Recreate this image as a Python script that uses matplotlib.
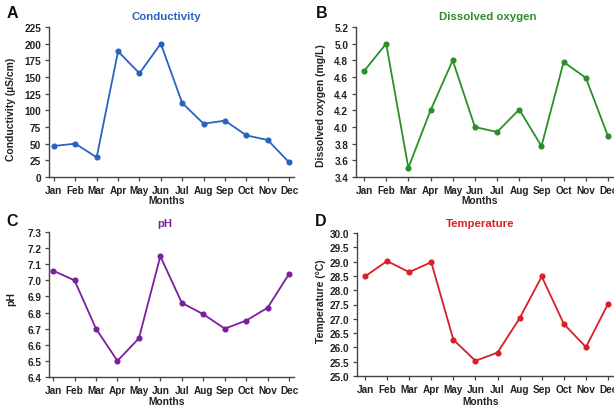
import matplotlib
matplotlib.use("Agg")
import matplotlib.pyplot as plt
import numpy as np

months = ["Jan", "Feb", "Mar", "Apr", "May", "Jun", "Jul", "Aug", "Sep", "Oct", "Nov", "Dec"]
conductivity = [46.5, 50, 29.5, 188.5, 155.5, 200, 111, 80, 84.5, 62.5, 55.5, 22]
dissolved_oxygen = [4.67, 5.00, 3.51, 4.20, 4.80, 4.00, 3.94, 4.21, 3.77, 4.78, 4.59, 3.89]
ph = [7.06, 7.00, 6.70, 6.50, 6.64, 7.15, 6.86, 6.79, 6.70, 6.75, 6.83, 7.04]
temperature = [28.48, 29.02, 28.63, 28.98, 26.27, 25.53, 25.82, 27.02, 28.48, 26.82, 26.01, 27.52]

cond_ticks = [0, 25, 50, 75, 100, 125, 150, 175, 200, 225]
do_ticks = [3.4, 3.6, 3.8, 4.0, 4.2, 4.4, 4.6, 4.8, 5.0, 5.2]
ph_ticks = [6.4, 6.5, 6.6, 6.7, 6.8, 6.9, 7.0, 7.1, 7.2, 7.3]
temp_ticks = [25.0, 25.5, 26.0, 26.5, 27.0, 27.5, 28.0, 28.5, 29.0, 29.5, 30.0]

W, H = 614, 410
fig = plt.figure(figsize=(W / 100, H / 100), dpi=100)

FONT = ['Liberation Sans Narrow', 'Liberation Sans', 'DejaVu Sans']
plt.rcParams['font.family'] = FONT
plt.rcParams['font.weight'] = 'bold'

def px_axes(l, t, r, b):
    return fig.add_axes([l / W, 1 - b / H, (r - l) / W, (b - t) / H])

panels = [
    dict(rect=(49, 28, 294, 178), data=conductivity, ticks=cond_ticks, fmt="{:.0f}",
         color="#2a62be", title="Conductivity", ylabel="Conductivity (µS/cm)",
         xlim=(-0.23, 11.23), letter="A", lpos=(12, 14),
         ylc=(-0.135, 0.455), xlc=(0.48, -0.122), tpos=(0.478, 1.073)),
    dict(rect=(356, 28, 614, 178), data=dissolved_oxygen, ticks=do_ticks, fmt="{:.1f}",
         color="#2a8f2a", title="Dissolved oxygen", ylabel="Dissolved oxygen (mg/L)",
         xlim=(-0.36, 11.27), letter="B", lpos=(322, 14),
         ylc=(-0.116, 0.48), xlc=(0.48, -0.122), tpos=(0.51, 1.073)),
    dict(rect=(49, 233, 294, 378), data=ph, ticks=ph_ticks, fmt="{:.1f}",
         color="#7b1f9e", title="pH", ylabel="pH",
         xlim=(-0.19, 11.23), letter="C", lpos=(12, 222),
         ylc=(-0.135, 0.545), xlc=(0.48, -0.132), tpos=(0.473, 1.062)),
    dict(rect=(357, 234, 614, 377), data=temperature, ticks=temp_ticks, fmt="{:.1f}",
         color="#d81f26", title="Temperature", ylabel="Temperature (°C)",
         xlim=(-0.36, 11.27), letter="D", lpos=(321, 222),
         ylc=(-0.121, 0.53), xlc=(0.48, -0.14), tpos=(0.48, 1.07)),
]

x = np.arange(len(months))
for p in panels:
    ax = px_axes(*p["rect"])
    ax.plot(x, p["data"], color=p["color"], lw=1.3, marker="o", ms=4.4,
            markeredgewidth=0, zorder=3, clip_on=False)
    ax.set_xlim(*p["xlim"])
    ax.set_ylim(p["ticks"][0], p["ticks"][-1])
    ax.set_yticks(p["ticks"])
    ax.set_yticklabels([p["fmt"].format(t) for t in p["ticks"]])
    ax.set_xticks(x)
    ax.set_xticklabels(months)
    for s in ("top", "right"):
        ax.spines[s].set_visible(False)
    for s in ("left", "bottom"):
        ax.spines[s].set_color("#444444")
        ax.spines[s].set_linewidth(1.0)
    ax.tick_params(axis="both", direction="out", length=3, width=0.9, color="#444444",
                   labelsize=7.2, pad=2.5, labelcolor="#222222")
    for lab in ax.get_xticklabels() + ax.get_yticklabels():
        lab.set_fontweight("bold")
    ax.set_ylabel(p["ylabel"], fontsize=7.5, fontweight="bold", color="#222222")
    ax.yaxis.set_label_coords(*p["ylc"])
    ax.set_xlabel("Months", fontsize=7.4, fontweight="bold", color="#222222")
    ax.xaxis.set_label_coords(*p["xlc"])
    ax.text(p["tpos"][0], p["tpos"][1], p["title"], transform=ax.transAxes,
            ha="center", va="center", fontsize=8.2, fontweight="bold", color=p["color"])
    fig.text(p["lpos"][0] / W, 1 - p["lpos"][1] / H, p["letter"],
             ha="center", va="center", fontsize=11.5, fontweight="bold",
             family=['Liberation Sans', 'DejaVu Sans'], color="#111111")

fig.savefig("out.png", dpi=100)
